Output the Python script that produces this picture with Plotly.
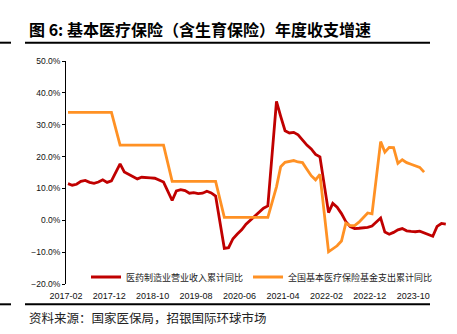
import plotly.graph_objects as go

# ---------------- data ----------------
red_months = [
    "2017-02", "2017-03", "2017-04", "2017-05", "2017-06", "2017-07", "2017-08", "2017-09", "2017-10", "2017-11", "2017-12",
    "2018-02", "2018-03", "2018-04", "2018-05", "2018-06", "2018-07", "2018-08", "2018-09", "2018-10", "2018-11", "2018-12",
    "2019-02", "2019-03", "2019-04", "2019-05", "2019-06", "2019-07", "2019-08", "2019-09", "2019-10", "2019-11", "2019-12",
    "2020-02", "2020-03", "2020-04", "2020-05", "2020-06", "2020-07", "2020-08", "2020-09", "2020-10", "2020-11", "2020-12",
    "2021-02", "2021-03", "2021-04", "2021-05", "2021-06", "2021-07", "2021-08", "2021-09", "2021-10", "2021-11", "2021-12",
    "2022-02", "2022-03", "2022-04", "2022-05", "2022-06", "2022-07", "2022-08", "2022-09", "2022-10", "2022-11", "2022-12",
    "2023-02", "2023-03", "2023-04", "2023-05", "2023-06", "2023-07", "2023-08", "2023-09", "2023-10", "2023-11", "2023-12",
    "2024-02", "2024-03", "2024-04", "2024-05",
]
red_values = [
    11.5, 11.0, 11.3, 12.2, 12.5, 11.9, 11.6, 12.0, 12.7, 11.9, 12.4,
    17.7, 15.2, 14.5, 13.6, 13.0, 13.5, 13.3, 13.3, 13.2, 12.7, 12.0,
    6.2, 9.2, 9.6, 9.3, 8.5, 8.7, 8.4, 8.5, 9.1, 8.6, 7.6,
    -8.8, -8.6, -5.8, -4.3, -3.0, -1.2, 0.1, 1.5, 2.7, 3.8, 4.5,
    37.3, 32.6, 28.1, 27.4, 27.6, 26.8, 25.2, 23.6, 22.4, 20.7, 19.9,
    2.4, 5.3, 4.1, 2.1, -0.4, -2.0, -2.6, -2.5, -2.4, -2.2, -1.8,
    0.7, -3.7, -4.4, -3.8, -3.0, -2.6, -3.3, -3.5, -3.6, -3.4, -3.9,
    -5.0, -1.9, -1.0, -1.2,
]

orange_months = red_months[:77]
orange_values = [
    33.9, 33.9, 33.9, 33.9, 33.9, 33.9, 33.9, 33.9, 33.9, 33.9, 33.9,
    23.6, 23.6, 23.6, 23.6, 23.6, 23.6, 23.6, 23.6, 23.6, 23.6, 23.6,
    12.2, 12.2, 12.2, 12.2, 12.2, 12.2, 12.2, 12.2, 12.2, 12.2, 12.2,
    0.9, 0.9, 0.9, 0.9, 0.9, 0.9, 0.9, 0.9, 0.9, 0.9, 0.9,
    10.5, 16.8, 18.2, 18.5, 18.75, 18.3, 18.1, 16.0, 14.0, 12.7, 14.4,
    -9.9, -8.9, -8.0, -6.5, -0.9, -1.7, -1.7, -0.6, 1.0, 2.3, 2.0,
    24.7, 21.4, 22.9, 22.8, 17.9, 19.0, 18.1, 17.6, 17.2, 16.6, 15.1,
]

red_name = "医药制造业营业收入累计同比"
orange_name = "全国基本医疗保险基金支出累计同比"
title_text = "<b>图 6: 基本医疗保险（含生育保险）年度收支增速</b>"
source_text = "资料来源：国家医保局，招银国际环球市场"

y_min, y_max, y_step = -20, 50, 10
x_start, x_end = "2017-02-01", "2024-06-01"

# ---------------- layout helpers (pixel -> paper) ----------------
W, H = 457, 334
L, R, T, B = 66, 9, 61, 50
PW, PH = W - L - R, H - T - B


def px(x):
    return (x - L) / PW


def py(y):
    return (H - B - y) / PH


RED = "#C00000"
ORANGE = "#FF9124"
CJK = "Noto Sans CJK SC"

fig = go.Figure()
fig.add_trace(go.Scatter(
    x=red_months, y=red_values, name=red_name, mode="lines",
    xperiod="M1", xperiodalignment="middle",
    line=dict(color=RED, width=2.8),
))
fig.add_trace(go.Scatter(
    x=orange_months, y=orange_values, name=orange_name, mode="lines",
    xperiod="M1", xperiodalignment="middle",
    line=dict(color=ORANGE, width=2.8),
))

fig.update_layout(
    width=W, height=H,
    margin=dict(l=L, r=R, t=T, b=B),
    paper_bgcolor="white", plot_bgcolor="white",
    showlegend=True,
    legend=dict(
        orientation="h", x=px(86), y=py(277), xanchor="left", yanchor="middle",
        font=dict(family=CJK, size=9, color="#222"),
        bgcolor="rgba(0,0,0,0)", itemwidth=30, traceorder="normal",
    ),
    xaxis=dict(
        type="date", range=[x_start, x_end],
        tick0="2017-02-01", dtick="M10", tickformat="%Y-%m",
        ticks="", showline=False, showgrid=False, zeroline=False,
        ticklabelstandoff=5,
        tickfont=dict(family="Liberation Sans, Arial", size=9, color="#111"),
    ),
    xaxis2=dict(
        type="date", overlaying="x", matches="x", anchor="free",
        position=(0 - y_min) / (y_max - y_min),
        tick0="2017-02-01", dtick="M10",
        showline=True, linecolor="black", linewidth=1,
        ticks="outside", ticklen=3, tickcolor="black",
        showticklabels=False, showgrid=False, zeroline=False,
    ),
    yaxis=dict(
        range=[y_min, y_max], dtick=y_step, tick0=0,
        tickformat=".1f", ticksuffix="%",
        showline=True, linecolor="black", linewidth=1,
        ticks="outside", ticklen=3, tickcolor="black",
        showgrid=False, zeroline=False,
        tickfont=dict(family="Liberation Sans, Arial", size=8.5, color="#111"),
    ),
)

# title, rules and source
fig.add_annotation(
    xref="paper", yref="paper", x=px(27), y=py(29), xanchor="left", yanchor="middle",
    text=title_text, showarrow=False,
    font=dict(family=CJK, size=16, color="black"),
)
fig.add_annotation(
    xref="paper", yref="paper", x=px(27), y=py(317), xanchor="left", yanchor="middle",
    text=source_text, showarrow=False,
    font=dict(family=CJK, size=12.5, color="#222"),
)
for yy in (42.7, 304.3):
    fig.add_shape(type="line", xref="paper", yref="paper",
                  x0=px(25), x1=px(430), y0=py(yy), y1=py(yy),
                  line=dict(color="black", width=2))
    fig.add_shape(type="line", xref="paper", yref="paper",
                  x0=px(0), x1=px(11), y0=py(yy), y1=py(yy),
                  line=dict(color="black", width=2))

fig.write_html("out.html")
